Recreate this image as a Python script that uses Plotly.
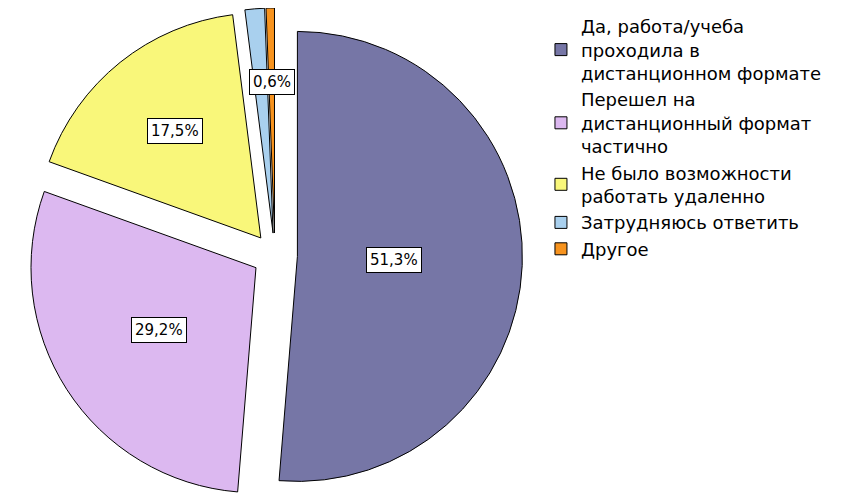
import math
import plotly.graph_objects as go

categories = [
    "Да, работа/учеба<br>проходила в<br>дистанционном формате",
    "Перешел на<br>дистанционный формат<br>частично",
    "Не было возможности<br>работать удаленно",
    "Затрудняюсь ответить",
    "Другое",
]
values = [51.3, 29.2, 17.5, 1.4, 0.6]
label_texts = ["51,3%", "29,2%", "17,5%", "", "0,6%"]

colors = ["#7676a6", "#dcb8f0", "#f9f77a", "#a9d0ee", "#f7931e"]
label_radius = [0.43, 0.51, 0.61, 0.0, 0.67]  # fraction of radius for label boxes

W, H = 861, 495
dom_x = [0.0, 0.62]
dom_y = [0.0, 1.0]
pull = 0.1

fig = go.Figure(go.Pie(
    labels=categories,
    values=values,
    sort=False,
    direction="clockwise",
    rotation=0,
    pull=[pull] * len(values),
    marker=dict(colors=colors, line=dict(color="#000000", width=1)),
    textinfo="none",
    hoverinfo="label+percent",
    domain=dict(x=dom_x, y=dom_y),
))

# label boxes placed from the data (mid-angles of slices)
cx = (dom_x[0] + dom_x[1]) / 2 * W
cy = (dom_y[0] + dom_y[1]) / 2 * H
r = min((dom_x[1] - dom_x[0]) * W, (dom_y[1] - dom_y[0]) * H) / 2 / (1 + pull)
total = sum(values)
cum = 0.0
for v, t, k in zip(values, label_texts, label_radius):
    mid = (cum + v / 2) / total * 2 * math.pi
    cum += v
    if not t:
        continue
    d = (k + pull) * r
    px = cx + d * math.sin(mid)
    py = cy + d * math.cos(mid)
    fig.add_annotation(
        x=px / W, y=py / H, xref="paper", yref="paper",
        xanchor="center", yanchor="middle",
        text=t, showarrow=False,
        font=dict(family="DejaVu Sans", size=15, color="#000"),
        bgcolor="#ffffff", bordercolor="#000000", borderwidth=1, borderpad=3,
    )

fig.update_layout(
    width=W, height=H,
    margin=dict(l=0, r=0, t=0, b=0),
    paper_bgcolor="#ffffff",
    plot_bgcolor="#ffffff",
    showlegend=True,
    legend=dict(
        x=0.619, y=1.0, xanchor="left", yanchor="top",
        font=dict(family="DejaVu Sans", size=18, color="#000"),
        traceorder="normal",
        itemwidth=30,
        tracegroupgap=0,
    ),
)

fig.write_html("out.html")
